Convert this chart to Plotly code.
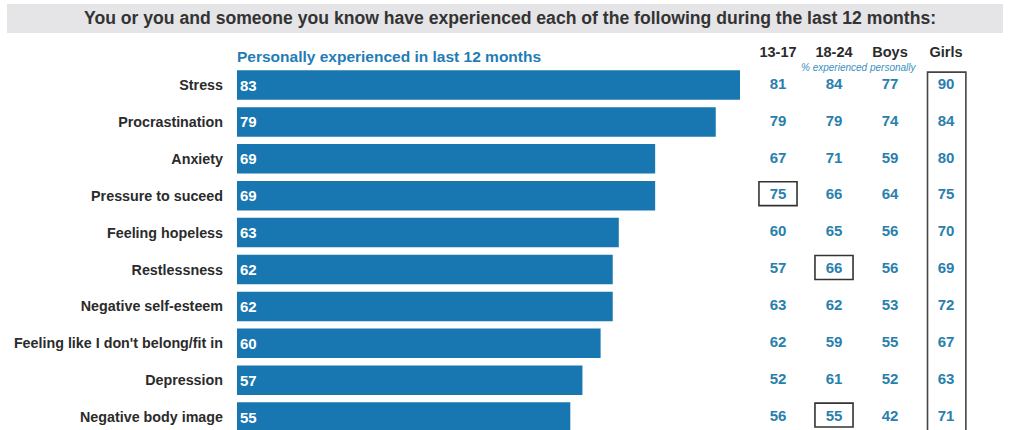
import plotly.graph_objects as go

categories = ["Stress", "Procrastination", "Anxiety", "Pressure to suceed", "Feeling hopeless",
              "Restlessness", "Negative self-esteem", "Feeling like I don't belong/fit in",
              "Depression", "Negative body image"]
personal = [83, 79, 69, 69, 63, 62, 62, 60, 57, 55]
group_cols = ["13-17", "18-24", "Boys", "Girls"]
age_13_17 = [81, 79, 67, 75, 60, 57, 63, 62, 52, 56]
age_18_24 = [84, 79, 71, 66, 65, 66, 62, 59, 61, 55]
boys = [77, 74, 59, 64, 56, 56, 53, 55, 52, 42]
girls = [90, 84, 80, 75, 70, 69, 72, 67, 63, 71]
# highlighted single cells: (column, row)
highlights = [("13-17", "Pressure to suceed"), ("18-24", "Restlessness"), ("18-24", "Negative body image")]

W, H = 1011, 430
BAR = "#1877b1"
NUM = "#2a80ac"
DARK = "#2b2b2b"
FONT = "Liberation Sans"

fig = go.Figure()
fig.add_trace(go.Bar(
    y=categories, x=personal, orientation="h", width=0.8,
    marker=dict(color=BAR, line=dict(width=0)),
    text=[str(v) for v in personal], textposition="inside", insidetextanchor="start",
    textfont=dict(family=FONT, size=15, color="white", weight="bold"),
    textangle=0, constraintext="none", hoverinfo="skip", xaxis="x", yaxis="y"))

cols = [age_13_17, age_18_24, boys, girls]
tx, ty, tt = [], [], []
for c, vals in zip(group_cols, cols):
    for cat, v in zip(categories, vals):
        tx.append(c); ty.append(cat); tt.append(str(v))
fig.add_trace(go.Scatter(
    x=tx, y=ty, text=tt, mode="text",
    textfont=dict(family=FONT, size=15, color=NUM, weight="bold"),
    hoverinfo="skip", xaxis="x2", yaxis="y", cliponaxis=False))

shapes = []
# title band
shapes.append(dict(type="rect", xref="paper", yref="paper",
                   x0=7 / W, x1=1003 / W, y0=1 - 33 / H, y1=1 - 4 / H,
                   fillcolor="#e5e4e7", line=dict(width=0), layer="below"))
# girls column box
gi = group_cols.index("Girls")
shapes.append(dict(type="rect", xref="x2", yref="y", x0=gi - 0.33, x1=gi + 0.355,
                   y0=-0.35, y1=len(categories) + 0.5,
                   line=dict(color="#444444", width=1.6), fillcolor="rgba(0,0,0,0)"))
for c, cat in highlights:
    ci = group_cols.index(c)
    ri = categories.index(cat)
    shapes.append(dict(type="rect", xref="x2", yref="y", x0=ci - 0.34, x1=ci + 0.34,
                       y0=ri - 0.38, y1=ri + 0.27,
                       line=dict(color="#333333", width=1.6), fillcolor="rgba(0,0,0,0)"))

annotations = [
    dict(text="You or you and someone you know have experienced each of the following during the last 12 months:",
         xref="paper", yref="paper", x=510 / W, y=1 - 18 / H, xanchor="center", yanchor="middle",
         showarrow=False, font=dict(family=FONT, size=17.6, color="#333333", weight="bold")),
    dict(text="Personally experienced in last 12 months",
         xref="paper", yref="paper", x=235 / W, y=1 - 56 / H, xanchor="left", yanchor="middle",
         showarrow=False, font=dict(family=FONT, size=15.5, color="#1f7db5", weight="bold")),
    dict(text="<i>% experienced personally</i>",
         xref="paper", yref="paper", x=859 / W, y=1 - 67 / H, xanchor="center", yanchor="middle",
         showarrow=False, font=dict(family=FONT, size=10, color="#3b8fc2")),
]

row_px, first_px = 36.9, 85.0
top_px = first_px - row_px / 2
bottom_val = (H - first_px) / row_px

fig.update_layout(
    width=W, height=H, margin=dict(l=0, r=0, t=0, b=0),
    paper_bgcolor="white", plot_bgcolor="rgba(0,0,0,0)",
    showlegend=False, shapes=shapes, annotations=annotations,
    xaxis=dict(domain=[237 / W, 740 / W], range=[0, 83], visible=False, fixedrange=True),
    xaxis2=dict(domain=[750 / W, 974 / W], type="category", categoryarray=group_cols,
                categoryorder="array", range=[-0.5, 3.5], side="top", anchor="y",
                showgrid=False, zeroline=False, showline=False, ticks="",
                tickfont=dict(family=FONT, size=14.5, color=DARK, weight="bold"),
                ticklabelstandoff=6),
    yaxis=dict(domain=[0, (H - top_px) / H], type="category", categoryarray=categories,
               categoryorder="array", range=[bottom_val, -0.5],
               showgrid=False, zeroline=False, showline=False, ticks="",
               tickfont=dict(family=FONT, size=14.3, color=DARK, weight="bold"),
               ticklabelstandoff=13),
    bargap=0.2,
)

fig.write_html("out.html", config={"displayModeBar": False, "staticPlot": True},
               post_script="document.body.style.margin='0';document.body.style.padding='0';"
                           "document.documentElement.style.overflow='hidden';")
